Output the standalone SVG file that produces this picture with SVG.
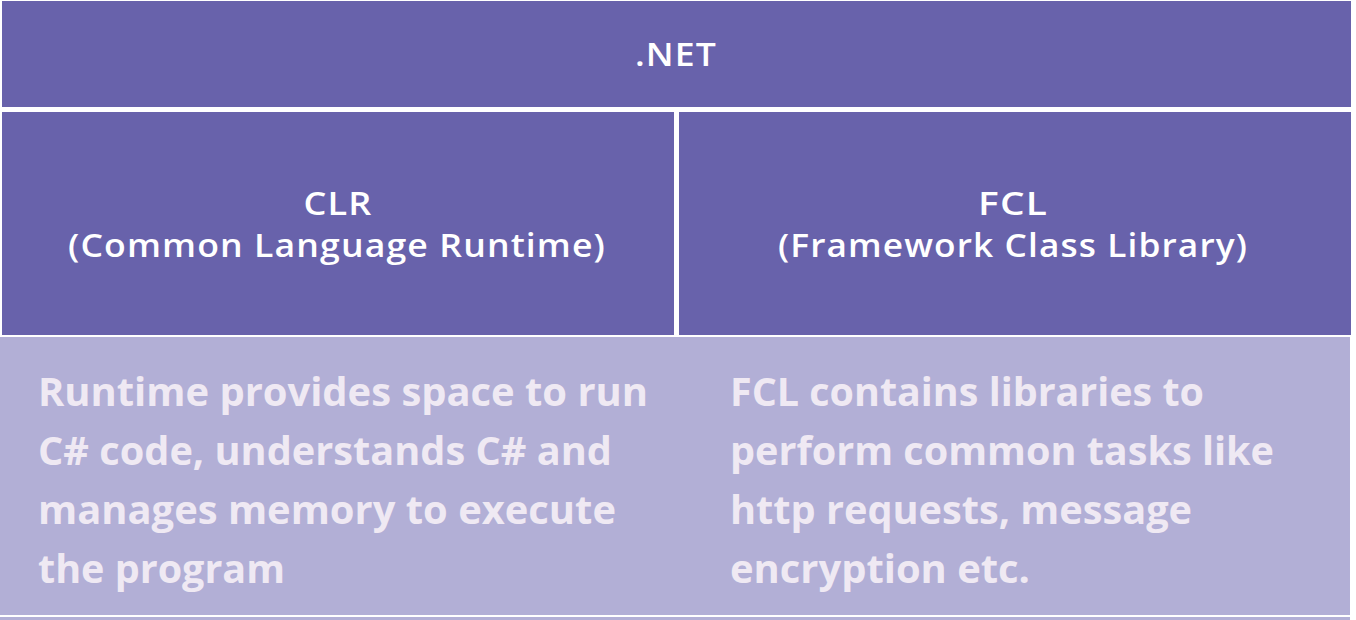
<svg xmlns="http://www.w3.org/2000/svg" width="1356" height="620" viewBox="0 0 1356 620">
<style>
.dark{fill:#6862ab}
.hd{font-family:"Open Sans","Noto Sans",sans-serif;font-weight:600;font-size:32px;fill:#ffffff;text-anchor:middle;letter-spacing:1px}
.bd{font-family:"Open Sans","Noto Sans",sans-serif;font-weight:700;font-size:40px;fill:#efe9f3}
</style>
<rect x="0" y="0" width="1356" height="620" fill="#ffffff"/>
<g id="net">
<rect class="dark" x="2" y="1" width="1349" height="106"/>
<text class="hd" x="676" y="66" textLength="82" lengthAdjust="spacingAndGlyphs">.NET</text>
</g>
<g id="clr">
<rect class="dark" x="2" y="112" width="672" height="223"/>
<text class="hd" x="338" y="215" textLength="69" lengthAdjust="spacingAndGlyphs">CLR</text>
<text class="hd" x="337" y="257" textLength="538" lengthAdjust="spacingAndGlyphs">(Common Language Runtime)</text>
</g>
<g id="fcl">
<rect class="dark" x="679" y="112" width="672" height="223"/>
<text class="hd" x="1013" y="215" textLength="70" lengthAdjust="spacingAndGlyphs">FCL</text>
<text class="hd" x="1013" y="257" textLength="470" lengthAdjust="spacingAndGlyphs">(Framework Class Library)</text>
</g>
<g id="descriptions">
<rect x="0" y="337" width="1350" height="278" fill="#b2afd6"/>
<rect x="0" y="615" width="1350" height="2" fill="#ffffff"/>
<rect x="0" y="617" width="1350" height="3" fill="#b2afd6"/>
<text class="bd" x="38" y="406" textLength="610" lengthAdjust="spacingAndGlyphs">Runtime provides space to run</text>
<text class="bd" x="38" y="465" textLength="574" lengthAdjust="spacingAndGlyphs">C# code, understands C# and</text>
<text class="bd" x="38" y="524" textLength="578" lengthAdjust="spacingAndGlyphs">manages memory to execute</text>
<text class="bd" x="38" y="583" textLength="247" lengthAdjust="spacingAndGlyphs">the program</text>
<text class="bd" x="730" y="406" textLength="474" lengthAdjust="spacingAndGlyphs">FCL contains libraries to</text>
<text class="bd" x="730" y="465" textLength="544" lengthAdjust="spacingAndGlyphs">perform common tasks like</text>
<text class="bd" x="730" y="524" textLength="462" lengthAdjust="spacingAndGlyphs">http requests, message</text>
<text class="bd" x="730" y="583" textLength="300" lengthAdjust="spacingAndGlyphs">encryption etc.</text>
</g>
</svg>
